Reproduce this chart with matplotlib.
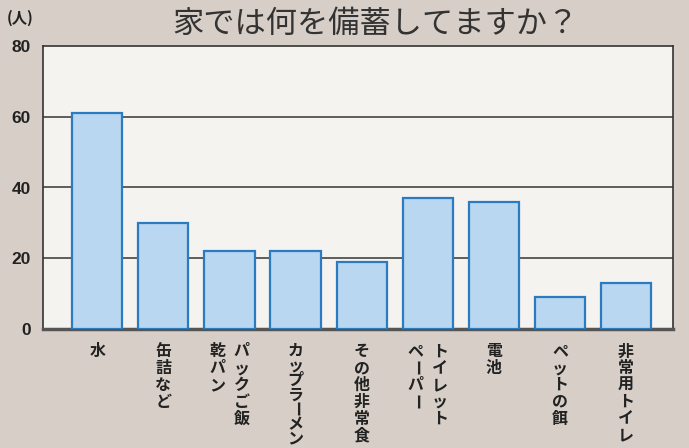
import matplotlib
matplotlib.use("Agg")
import matplotlib.pyplot as plt
from matplotlib import transforms

plt.rcParams['font.family'] = ['Noto Sans CJK JP', 'DejaVu Sans']

title = "家では何を備蓄してますか？"
unit_label = "(人)"
categories = ['水', '缶詰など', 'パックご飯\n乾パン', 'カップラーメン', 'その他非常食',
              'トイレット\nペーパー', '電池', 'ペットの餌', '非常用トイレ']
values = [61, 30, 22, 22, 19, 37, 36, 9, 13]
yticks = [0, 20, 40, 60, 80]

W, H = 689, 448
fig = plt.figure(figsize=(W / 100, H / 100), dpi=100)
fig.patch.set_facecolor('#d7cfc7')

ax = fig.add_axes([43 / W, 1 - 329 / H, (673 - 43) / W, (329 - 46) / H])
ax.set_facecolor('#f5f3f0')
x = list(range(len(categories)))
ax.bar(x, values, width=0.76, color='#b9d7f1', edgecolor='#2b7bc0', linewidth=1.6, zorder=3)
ax.set_xlim(-0.82, 8.71)
ax.set_ylim(0, 80)
ax.set_yticks(yticks)
ax.set_yticklabels([str(t) for t in yticks], fontsize=12.5, fontweight='bold', color='#222222',
                   family=['Liberation Sans', 'DejaVu Sans'])
ax.tick_params(axis='y', length=0, pad=9)
ax.tick_params(axis='x', length=0, labelbottom=False)
for t in yticks[1:-1]:
    ax.axhline(t, color='#444444', linewidth=1.2, zorder=1)
for s in ['left', 'top', 'right']:
    ax.spines[s].set_color('#333333')
    ax.spines[s].set_linewidth(1.2)
ax.spines['bottom'].set_color('#555555')
ax.spines['bottom'].set_linewidth(2.5)

# vertical category labels
top_px = 343
bottom_px = 446
col_gap = 24
for xi, lab in zip(x, categories):
    cols = lab.split('\n')
    n = len(cols)
    for ci, col in enumerate(cols):
        dx = ((n - 1) / 2 - ci) * col_gap
        step = min(16.8, (bottom_px - top_px) / len(col))
        for k, ch in enumerate(col):
            y_px = top_px + step * (k + 0.5)
            tr = transforms.blended_transform_factory(ax.transData, fig.transFigure)
            tr = transforms.offset_copy(tr, fig=fig, x=dx, y=0, units='dots')
            ax.text(xi, 1 - y_px / H, ch, transform=tr, ha='center', va='center',
                    fontsize=11.5, fontweight='bold', color='#222222',
                    rotation=(270 if ch == 'ー' else 0), clip_on=False)

fig.text(375 / W, 1 - 24 / H, title, ha='center', va='center', fontsize=22.5, color='#333333')
fig.text(20 / W, 1 - 18 / H, unit_label, ha='center', va='center', fontsize=11,
         fontweight='bold', color='#222222')

fig.savefig('out.png', dpi=100, facecolor=fig.get_facecolor())
